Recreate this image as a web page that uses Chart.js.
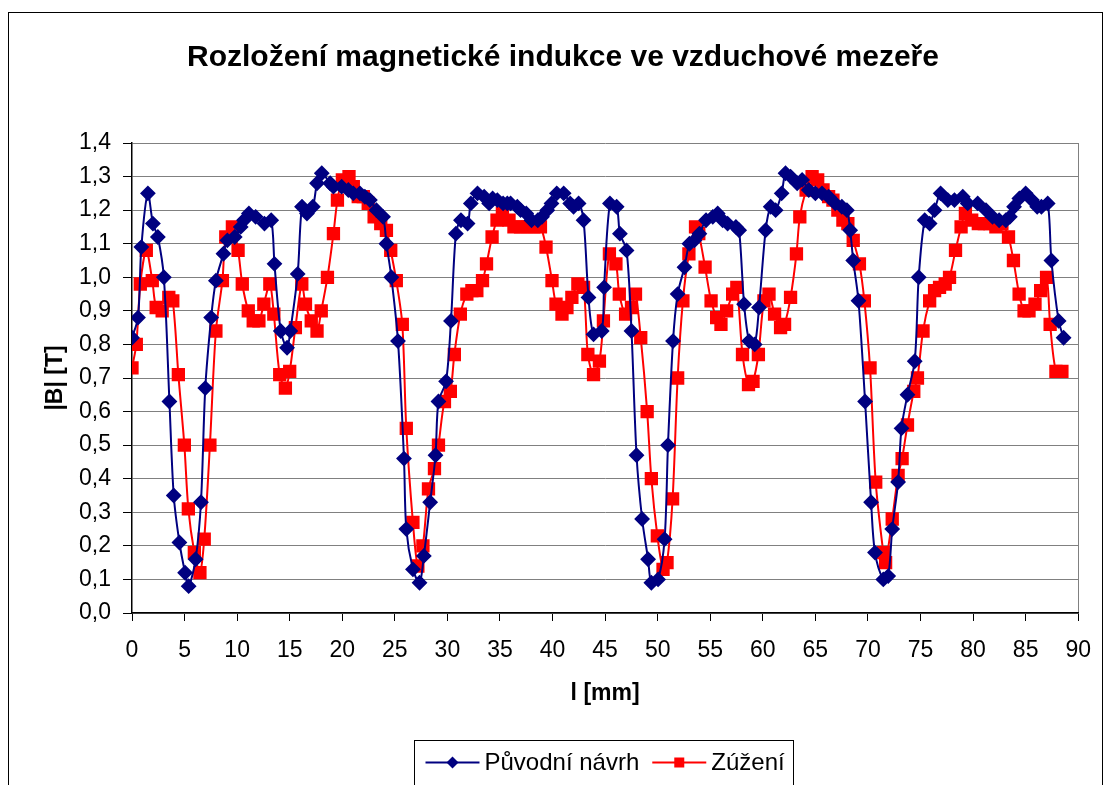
<!DOCTYPE html>
<html lang="cs">
<head>
  <meta charset="UTF-8">
  <title>Rozložení magnetické indukce ve vzduchové mezeře</title>
  <script src="https://cdn.jsdelivr.net/npm/chart.js"></script>
  <style>
    html, body { margin: 0; padding: 0; background: #fff; overflow: hidden; }
    #frame { position: absolute; left: 8px; top: 12px; width: 1093px; height: 800px; border: 1px solid #000; }
    #wrap { position: absolute; left: 0; top: 0; width: 1107px; height: 785px; }
  </style>
</head>
<body>
  <div id="frame"></div>
  <div id="wrap"><canvas id="chart" width="1107" height="785"></canvas></div>

  <script>
    // Původní návrh: position [mm] and |B| [T]
    const lenOrig = [0, 0.57, 0.89, 1.51, 1.99, 2.46, 3.03, 3.56, 3.97, 4.51, 5.05, 5.39, 6.05, 6.56, 6.97, 7.53, 7.98, 8.7, 9.07, 9.77,
      10.34, 10.65, 11.12, 11.76, 12.6, 13.24, 13.55, 14.15, 14.75, 15.06, 15.76, 16.17, 16.64, 17.2, 17.6, 18.05, 18.85, 19.16, 19.94, 20.58,
      21.05, 21.68, 22.15, 22.63, 23.25, 23.88, 24.2, 24.67, 25.3, 25.87, 26.09, 26.72, 27.35, 27.76, 28.36, 28.87, 29.15, 29.87, 30.34, 30.81,
      31.29, 31.92, 32.23, 32.86, 33.5, 33.97, 34.3, 34.75, 35.3, 35.7, 36.01, 36.65, 36.96, 37.5, 38.0, 38.6, 39.0, 39.5, 39.9, 40.4,
      41.06, 41.68, 42.0, 42.48, 42.95, 43.42, 43.9, 44.68, 44.9, 45.46, 46.1, 46.41, 47.04, 47.51, 47.99, 48.52, 49.09, 49.4, 50.04, 50.66,
      50.98, 51.46, 51.9, 52.55, 53.02, 53.5, 53.97, 54.6, 55.24, 55.71, 56.18, 56.65, 57.44, 57.75, 58.22, 58.7, 59.23, 59.64, 60.27, 60.75,
      61.22, 61.79, 62.16, 62.64, 63.27, 63.74, 64.37, 65.0, 65.63, 66.26, 66.89, 67.52, 68.0, 68.31, 68.6, 69.1, 69.73, 70.3, 70.67, 71.46,
      71.93, 72.31, 72.87, 73.19, 73.76, 74.45, 74.83, 75.4, 75.87, 76.34, 76.91, 77.6, 78.23, 79.02, 79.49, 80.44, 81.23, 81.85, 82.48, 83.12,
      83.5, 83.9, 84.4, 85.0, 85.6, 86.1, 86.5, 87.1, 87.45, 88.14, 88.61];
    const bOrig = [0.82, 0.88, 1.09, 1.25, 1.16, 1.12, 1.0, 0.63, 0.35, 0.21, 0.12, 0.08, 0.16, 0.33, 0.67, 0.88, 0.99, 1.07, 1.11, 1.12,
      1.15, 1.17, 1.19, 1.18, 1.16, 1.17, 1.04, 0.84, 0.79, 0.84, 1.01, 1.21, 1.19, 1.21, 1.28, 1.31, 1.28, 1.27, 1.27, 1.26,
      1.25, 1.25, 1.24, 1.23, 1.2, 1.18, 1.1, 1.0, 0.81, 0.46, 0.25, 0.13, 0.09, 0.17, 0.33, 0.47, 0.63, 0.69, 0.87, 1.13,
      1.17, 1.16, 1.22, 1.25, 1.24, 1.22, 1.235, 1.23, 1.22, 1.22, 1.22, 1.21, 1.2, 1.19, 1.17, 1.17, 1.18, 1.2, 1.22, 1.25,
      1.25, 1.22, 1.21, 1.22, 1.17, 0.94, 0.83, 0.84, 0.97, 1.22, 1.21, 1.13, 1.08, 0.84, 0.47, 0.28, 0.16, 0.09, 0.1, 0.22,
      0.5, 0.81, 0.95, 1.03, 1.1, 1.11, 1.13, 1.17, 1.18, 1.19, 1.17, 1.16, 1.15, 1.14, 0.92, 0.81, 0.8, 0.91, 1.14, 1.21,
      1.2, 1.25, 1.31, 1.3, 1.28, 1.29, 1.26, 1.25, 1.25, 1.24, 1.22, 1.21, 1.2, 1.14, 1.05, 0.93, 0.63, 0.33, 0.18, 0.1,
      0.11, 0.25, 0.39, 0.55, 0.65, 0.75, 1.0, 1.17, 1.16, 1.2, 1.25, 1.23, 1.23, 1.24, 1.22, 1.22, 1.2, 1.18, 1.17, 1.17,
      1.18, 1.21, 1.235, 1.25, 1.23, 1.21, 1.21, 1.22, 1.05, 0.87, 0.82];

    // Zúžení: position [mm] and |B| [T]
    const lenNarrow = [0, 0.41, 0.79, 1.36, 1.93, 2.3, 2.87, 3.5, 3.88, 4.41, 4.98, 5.36, 5.93, 6.46, 6.87, 7.41, 7.98, 8.6, 8.92, 9.55,
      10.09, 10.49, 11.06, 11.53, 12.07, 12.54, 13.11, 13.49, 14.05, 14.59, 15.0, 15.54, 16.15, 16.5, 17.05, 17.6, 18.0, 18.59, 19.16, 19.54,
      20.01, 20.64, 21.05, 21.52, 22.0, 22.47, 23.03, 23.66, 24.2, 24.61, 25.14, 25.71, 26.09, 26.72, 27.19, 27.67, 28.2, 28.77, 29.15, 29.72,
      30.28, 30.66, 31.23, 31.85, 32.33, 32.8, 33.34, 33.72, 34.25, 34.72, 35.23, 35.86, 36.33, 36.96, 37.59, 38.22, 38.85, 39.38, 39.95, 40.33,
      40.9, 41.37, 41.84, 42.41, 42.95, 43.36, 43.9, 44.46, 44.84, 45.41, 46.03, 46.35, 46.95, 47.51, 47.89, 48.39, 49.0, 49.4, 49.97, 50.51,
      50.89, 51.42, 51.9, 52.4, 52.97, 53.6, 53.91, 54.51, 55.08, 55.61, 56.02, 56.56, 57.13, 57.53, 58.07, 58.64, 59.07, 59.58, 60.11, 60.59,
      61.12, 61.69, 62.07, 62.64, 63.2, 63.52, 64.12, 64.69, 65.22, 65.73, 66.26, 66.67, 67.14, 67.62, 68.09, 68.6, 69.19, 69.66, 70.2, 70.74,
      71.46, 71.68, 72.31, 72.87, 73.25, 73.76, 74.36, 74.71, 75.24, 75.87, 76.34, 76.81, 77.35, 77.76, 78.33, 78.86, 79.27, 79.87, 80.5, 81.07,
      81.6, 82.17, 82.74, 83.37, 83.84, 84.38, 84.85, 85.32, 85.89, 86.43, 86.99, 87.33, 87.88, 88.45];
    const bNarrow = [0.73, 0.8, 0.98, 1.08, 0.99, 0.91, 0.9, 0.94, 0.93, 0.71, 0.5, 0.31, 0.18, 0.12, 0.22, 0.5, 0.84, 0.99, 1.12, 1.15,
      1.08, 0.98, 0.9, 0.87, 0.87, 0.92, 0.98, 0.89, 0.71, 0.67, 0.72, 0.85, 0.98, 0.92, 0.87, 0.84, 0.9, 1.0, 1.13, 1.23,
      1.29, 1.3, 1.27, 1.24, 1.24, 1.22, 1.18, 1.16, 1.14, 1.08, 0.99, 0.86, 0.55, 0.27, 0.14, 0.2, 0.37, 0.43, 0.5, 0.63,
      0.66, 0.77, 0.89, 0.95, 0.96, 0.96, 0.99, 1.04, 1.12, 1.17, 1.19, 1.17, 1.15, 1.15, 1.15, 1.15, 1.15, 1.09, 0.99, 0.92,
      0.89, 0.91, 0.94, 0.98, 0.97, 0.77, 0.71, 0.75, 0.87, 1.07, 1.04, 0.95, 0.89, 0.91, 0.95, 0.82, 0.6, 0.4, 0.23, 0.13,
      0.15, 0.34, 0.7, 0.93, 1.07, 1.15, 1.13, 1.03, 0.93, 0.88, 0.86, 0.9, 0.95, 0.97, 0.77, 0.68, 0.69, 0.77, 0.93, 0.95,
      0.89, 0.85, 0.86, 0.94, 1.07, 1.18, 1.26, 1.3, 1.29, 1.26, 1.24, 1.23, 1.2, 1.17, 1.16, 1.11, 1.04, 0.93, 0.73, 0.39,
      0.18, 0.15, 0.28, 0.41, 0.46, 0.56, 0.66, 0.7, 0.84, 0.93, 0.96, 0.97, 0.98, 1.0, 1.08, 1.15, 1.19, 1.17, 1.16, 1.16,
      1.16, 1.15, 1.16, 1.12, 1.05, 0.95, 0.9, 0.9, 0.92, 0.96, 1.0, 0.86, 0.72, 0.72];

    const xTickStep = 5;
    const yTickStep = 0.1;

    const FONT = "'Liberation Sans', Arial, sans-serif";

    // legend drawn as a bordered box under the axis title
    const boxLegend = {
      id: 'boxLegend',
      afterDraw(chart) {
        const ctx = chart.ctx;
        const area = chart.chartArea;
        const cx = (area.left + area.right) / 2;
        const left = Math.round(cx - 191) + 0.5;
        const right = Math.round(cx + 188) + 0.5;
        const top = Math.round(area.bottom + 127) + 0.5;
        ctx.save();
        ctx.strokeStyle = '#000';
        ctx.lineWidth = 1;
        ctx.strokeRect(left, top, right - left, 100);
        ctx.font = '24px ' + FONT;
        ctx.textBaseline = 'middle';
        ctx.fillStyle = '#000';
        const y = top + 22;
        let x = left + 11;
        chart.data.datasets.forEach(ds => {
          ctx.strokeStyle = ds.borderColor;
          ctx.lineWidth = 2;
          ctx.beginPath();
          ctx.moveTo(x, y);
          ctx.lineTo(x + 54, y);
          ctx.stroke();
          ctx.fillStyle = ds.backgroundColor;
          const mx = x + 27;
          ctx.beginPath();
          if (ds.pointStyle === 'rectRot') {
            ctx.moveTo(mx, y - 6); ctx.lineTo(mx + 6, y); ctx.lineTo(mx, y + 6); ctx.lineTo(mx - 6, y);
            ctx.closePath();
          } else {
            ctx.rect(mx - 5, y - 5, 10, 10);
          }
          ctx.fill();
          ctx.fillStyle = '#000';
          ctx.fillText(ds.label, x + 59, y + 1);
          x += 59 + ctx.measureText(ds.label).width + 13;
        });
        ctx.restore();
      }
    };

    const ctx = document.getElementById('chart').getContext('2d');
    new Chart(ctx, {
      type: 'line',
      data: {
        datasets: [{
          label: 'Původní návrh',
          data: lenOrig.map((l, i) => ({ x: l, y: bOrig[i] })),
          borderColor: '#000080',
          backgroundColor: '#000080',
          borderWidth: 2,
          pointStyle: 'rectRot',
          pointRadius: 6.5,
          pointHoverRadius: 6.5,
          tension: 0.3
        }, {
          label: 'Zúžení',
          data: lenNarrow.map((l, i) => ({ x: l, y: bNarrow[i] })),
          borderColor: '#FF0000',
          backgroundColor: '#FF0000',
          borderWidth: 2,
          pointStyle: 'rect',
          pointRadius: 8,
          pointHoverRadius: 8,
          tension: 0.3
        }]
      },
      options: {
        responsive: false,
        animation: false,
        events: [],
        layout: { padding: { left: 42, right: 23, top: 0, bottom: 72 } },
        plugins: {
          legend: { display: false },
          tooltip: { enabled: false },
          title: {
            display: true,
            text: 'Rozložení magnetické indukce ve vzduchové mezeře',
            color: '#000',
            font: { family: FONT, size: 30, weight: 'bold', lineHeight: 1.2 },
            padding: { top: 40, bottom: 67 }
          }
        },
        scales: {
          x: {
            type: 'linear',
            min: 0,
            max: 90,
            afterFit: s => { s.height = 100; },
            ticks: {
              stepSize: xTickStep,
              color: '#000',
              padding: 16,
              font: { family: FONT, size: 23 }
            },
            grid: {
              color: c => c.index === 18 ? '#808080' : 'rgba(0,0,0,0)',
              tickColor: '#000',
              tickLength: 8,
              lineWidth: 1
            },
            border: { color: '#000', width: 1.5 },
            title: {
              display: true,
              text: 'l [mm]',
              color: '#000',
              font: { family: FONT, size: 23, weight: 'bold' },
              padding: { top: 0, bottom: 6 }
            }
          },
          y: {
            min: 0,
            max: 1.4,
            afterFit: s => { s.width = 90; },
            ticks: {
              stepSize: yTickStep,
              color: '#000',
              padding: 12,
              font: { family: FONT, size: 23 },
              callback: v => v.toFixed(1).replace('.', ',')
            },
            grid: {
              color: '#808080',
              tickColor: '#000',
              tickLength: 9,
              lineWidth: 1
            },
            border: { color: '#000', width: 1.5 },
            title: {
              display: true,
              text: '|B| [T]',
              color: '#000',
              font: { family: FONT, size: 23, weight: 'bold' },
              padding: { top: 0, bottom: 0 }
            }
          }
        }
      },
      plugins: [boxLegend]
    });
  </script>
</body>
</html>
